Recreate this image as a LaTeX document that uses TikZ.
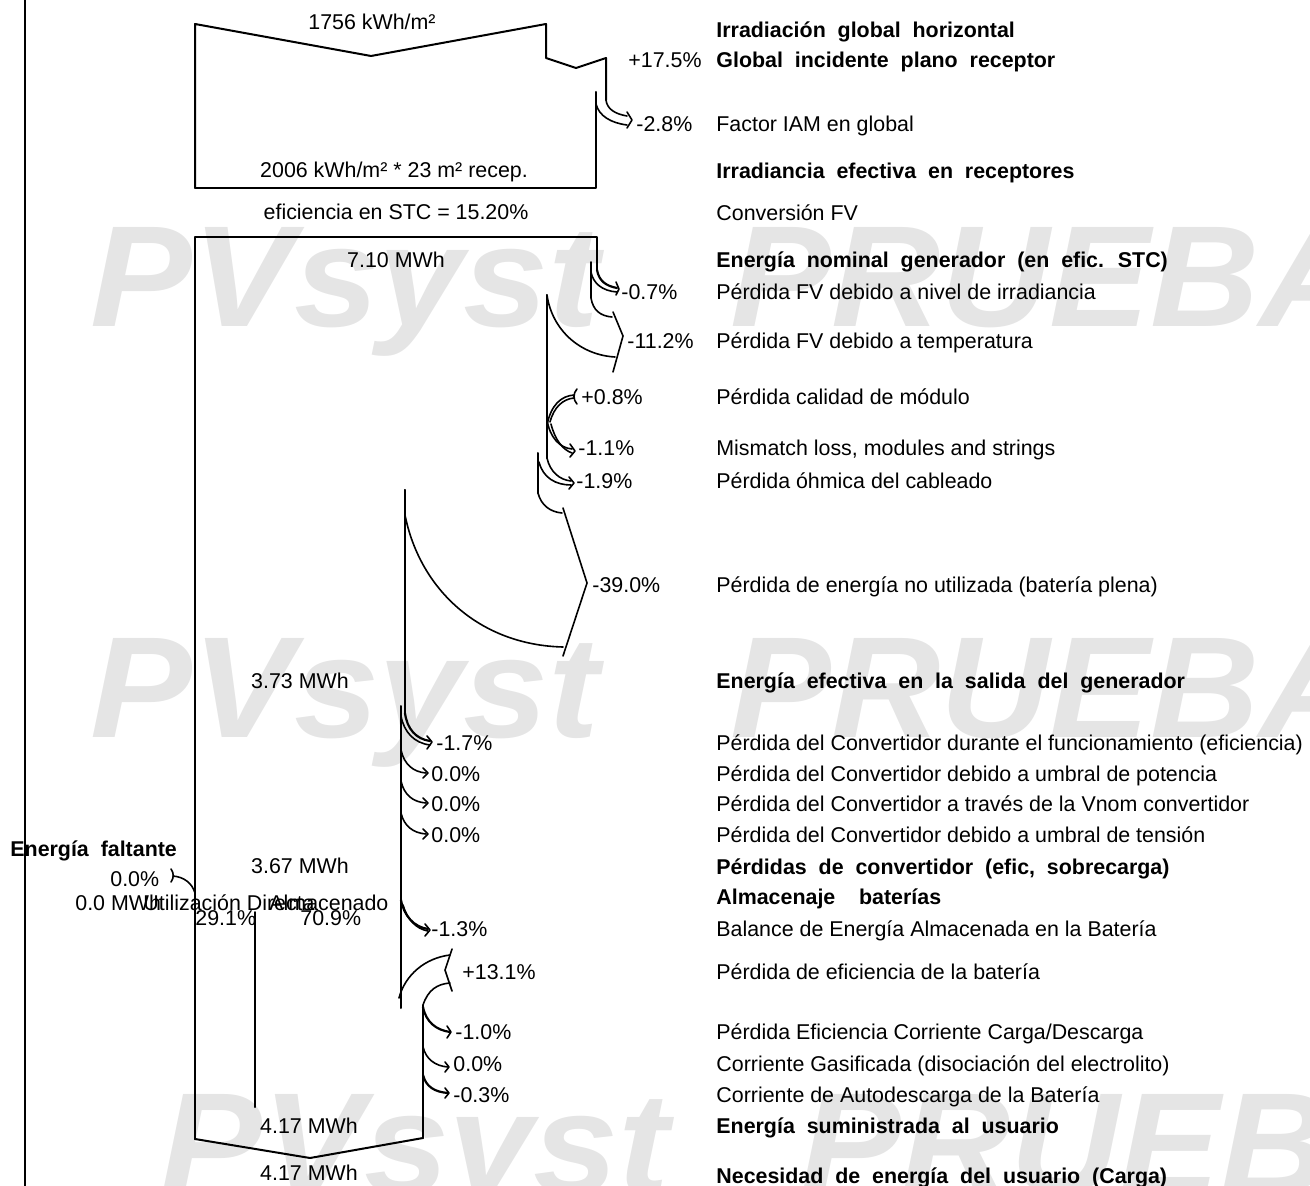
\documentclass[tikz,border=0pt]{standalone}
\usepackage{fontspec}
\usepackage{graphicx}
\setmainfont{Liberation Sans}
\newfontfamily\bfam{Liberation Sans}[WordSpace=2]
\definecolor{wmgray}{RGB}{229,229,229}
\begin{document}
\begin{tikzpicture}[x=0.5pt,y=-0.5pt,line join=round,line cap=round]
\tikzset{
  ln/.style={line width=1pt},
  ar/.style={line width=0.8pt},
  arb/.style={line width=1.1pt},
  lbl/.style={anchor=base west,inner sep=0pt,font=\fontsize{10.7}{12}\selectfont},
  blbl/.style={anchor=base west,inner sep=0pt,font=\fontsize{10.7}{12}\selectfont\bfam\bfseries},
  clbl/.style={anchor=base,inner sep=0pt,font=\fontsize{10.7}{12}\selectfont},
  wm/.style={anchor=base west,inner sep=0pt,text=wmgray,font=\fontsize{72}{72}\selectfont\bfseries\itshape}
}
\useasboundingbox (0,0) rectangle (1310,1186);
\begin{scope}
\clip (0,0) rectangle (1310,1186);
\node[wm] (w1a) at (90,327) {\scalebox{1.06}[1]{PVsyst}};
\node[wm] (w1b) at (730,327) {\scalebox{1.05}[1]{PRUEBA}};
\node[wm] (w2a) at (90,737) {\scalebox{1.06}[1]{PVsyst}};
\node[wm] (w2b) at (730,737) {\scalebox{1.05}[1]{PRUEBA}};
\node[wm] (w3a) at (160,1193) {\scalebox{1.06}[1]{PVsyst}};
\node[wm] (w3b) at (800,1193) {\scalebox{1.05}[1]{PRUEBA}};
\end{scope}

% left border line
\draw[ln] (25,0) -- (25,1186);

% irradiation box
\draw[ln] (195,188) -- (195,24) -- (371,56) -- (546,24) -- (546,58) -- (576,68) -- (606,58) -- (606,100);
\draw[ln] (195,188) -- (596,188) -- (596,92);
% IAM loss
\draw[ar] (606,100) .. controls (607,109) and (615,114) .. (627,116);
\draw[ar] (596,104) .. controls (599,116) and (611,123) .. (627,125);
\draw[ar] (627,112) -- (632,120) -- (627,128);

% PV array box
\draw[ln] (195,1139) -- (195,237) -- (597,237) -- (597,270);
% -0.7%
\draw[arb] (597,270) .. controls (599,281) and (606,286) .. (617,288);
\draw[ar] (591,262) -- (591,272) .. controls (593,283) and (602,291) .. (617,292);
\draw[ar] (616,282) -- (619,289) -- (616,295);
% -11.2%
\draw[ar] (591,272) -- (591,298) .. controls (593,310) and (600,316) .. (612,317);
\draw[ar] (547,295) .. controls (552,330) and (580,355) .. (615,357);
\draw[ar] (613,312) -- (623,336) -- (613,372);
\draw[ln] (547,295) -- (547,458);
% +0.8%
\draw[ar] (547,425) .. controls (551,405) and (561,396) .. (574,395);
\draw[ar] (550,422) .. controls (554,407) and (563,399) .. (574,398);
\draw[ar] (577,389) .. controls (573,393) and (573,400) .. (577,404);
% -1.1%
\draw[ar] (547,420) .. controls (550,438) and (560,448) .. (572,449);
\draw[ar] (551,424) .. controls (555,440) and (563,450) .. (572,453);
\draw[ar] (570,444) -- (575,451) -- (570,457);
% -1.9%
\draw[ar] (547,458) .. controls (550,472) and (560,480) .. (571,481);
\draw[ar] (539,462) .. controls (543,478) and (556,485) .. (571,485);
\draw[ar] (569,477) -- (574,483) -- (569,489);
\draw[ln] (538,453) -- (538,493);
% -39.0%
\draw[ar] (538,493) .. controls (541,505) and (550,512) .. (562,513);
\draw[ar] (563,508) -- (587,583) -- (563,656);
\draw[ar] (405,490) -- (405,515) .. controls (420,590) and (480,645) .. (563,647);
\draw[ln] (405,490) -- (405,713);
\draw[ln] (401,706) -- (401,1008);
% -1.7%
\draw[arb] (405,713) .. controls (407,729) and (416,739) .. (430,741);
\draw[ar] (401,716) .. controls (404,732) and (414,743) .. (430,745);
\draw[ar] (427,736) -- (432,742) -- (427,749);
% 0.0% x3
\draw[ar] (401,750) .. controls (404,764) and (413,772) .. (426,773);
\draw[ar] (423,768) -- (428,773) -- (423,778);
\draw[ar] (401,781) .. controls (404,795) and (413,802) .. (426,803);
\draw[ar] (423,798) -- (428,803) -- (423,808);
\draw[ar] (401,813) .. controls (404,826) and (413,833) .. (426,834);
\draw[ar] (423,829) -- (428,834) -- (423,839);
% -1.3%
\draw[arb] (401,900) .. controls (404,916) and (414,927) .. (428,929);
\draw[ar] (403,905) .. controls (407,919) and (416,929) .. (428,931);
\draw[ar] (425,924) -- (430,930) -- (425,936);
% +13.1%
\draw[ar] (399,998) .. controls (405,975) and (425,958) .. (450,955);
\draw[ar] (423,1005) .. controls (428,990) and (437,984) .. (450,983);
\draw[ar] (452,949) -- (445,970) -- (452,991);
\draw[ln] (423,1005) -- (423,1138);
% -1.0%
\draw[arb] (423,1007) .. controls (426,1022) and (436,1030) .. (450,1032);
\draw[ar] (447,1026) -- (451,1032) -- (447,1038);
% 0.0%
\draw[ar] (423,1047) .. controls (426,1059) and (435,1066) .. (448,1067);
\draw[ar] (445,1062) -- (449,1067) -- (445,1072);
% -0.3%
\draw[arb] (423,1075) .. controls (426,1087) and (435,1092) .. (448,1093);
\draw[ar] (445,1088) -- (449,1093) -- (445,1098);
% bottom
\draw[ln] (195,1139) -- (310,1158) -- (423,1138);
\draw[ln] (255,912) -- (255,1107);
% missing energy
\draw[ar] (171,869) .. controls (174,873) and (174,878) .. (171,882);
\draw[ar] (173,876) .. controls (184,877) and (192,883) .. (195,893);

% left labels
\node[clbl] (l1) at (372,30) {1756 kWh/m²};
\node[clbl] (l2) at (394,178) {2006 kWh/m² * 23 m² recep.};
\node[clbl] (l3) at (396,220) {eficiencia en STC = 15.20\%};
\node[clbl] (l4) at (396,268) {7.10 MWh};
\node[clbl] (l5) at (300,688) {3.73 MWh};
\node[blbl] (l6) at (10,856) {Energía faltante};
\node[clbl] (l7) at (300,873) {3.67 MWh};
\node[lbl] (l8) at (110,886) {0.0\%};
\node[lbl] (l9) at (75,910) {0.0 MWh};
\node[lbl] (l10) at (143,910) {Utilización Directa};
\node[lbl] (l11) at (269,910) {Almacenado};
\node[lbl] (l12) at (195,925) {29.1\%};
\node[lbl] (l13) at (300,925) {70.9\%};
\node[clbl] (l14) at (309,1133) {4.17 MWh};
\node[clbl] (l15) at (309,1180) {4.17 MWh};

% percentages
\node[lbl] (p1) at (628,68) {+17.5\%};
\node[lbl] (p2) at (636,132) {-2.8\%};
\node[lbl] (p3) at (621,300) {-0.7\%};
\node[lbl] (p4) at (627,349) {-11.2\%};
\node[lbl] (p5) at (581,405) {+0.8\%};
\node[lbl] (p6) at (578,456) {-1.1\%};
\node[lbl] (p7) at (576,489) {-1.9\%};
\node[lbl] (p8) at (592,592) {-39.0\%};
\node[lbl] (p9) at (436,750) {-1.7\%};
\node[lbl] (p10) at (431,781) {0.0\%};
\node[lbl] (p11) at (431,811) {0.0\%};
\node[lbl] (p12) at (431,842) {0.0\%};
\node[lbl] (p13) at (431,936) {-1.3\%};
\node[lbl] (p14) at (462,979) {+13.1\%};
\node[lbl] (p15) at (455,1039) {-1.0\%};
\node[lbl] (p16) at (453,1071) {0.0\%};
\node[lbl] (p17) at (453,1102) {-0.3\%};

% right labels
\node[blbl] (r1) at (716,38) {Irradiación global horizontal};
\node[blbl] (r2) at (716,68) {Global incidente plano receptor};
\node[lbl] (r3) at (716,132) {Factor IAM en global};
\node[blbl] (r4) at (716,179) {Irradiancia efectiva en receptores};
\node[lbl] (r5) at (716,221) {Conversión FV};
\node[blbl] (r6) at (716,268) {Energía nominal generador (en efic. STC)};
\node[lbl] (r7) at (716,300) {Pérdida FV debido a nivel de irradiancia};
\node[lbl] (r8) at (716,349) {Pérdida FV debido a temperatura};
\node[lbl] (r9) at (716,405) {Pérdida calidad de módulo};
\node[lbl] (r10) at (716,456) {Mismatch loss, modules and strings};
\node[lbl] (r11) at (716,489) {Pérdida óhmica del cableado};
\node[lbl] (r12) at (716,592) {Pérdida de energía no utilizada (batería plena)};
\node[blbl] (r13) at (716,688) {Energía efectiva en la salida del generador};
\node[lbl] (r14) at (716,750) {Pérdida del Convertidor durante el funcionamiento (eficiencia)};
\node[lbl] (r15) at (716,781) {Pérdida del Convertidor debido a umbral de potencia};
\node[lbl] (r16) at (716,811) {Pérdida del Convertidor a través de la Vnom convertidor};
\node[lbl] (r17) at (716,842) {Pérdida del Convertidor debido a umbral de tensión};
\node[blbl] (r18) at (716,874) {Pérdidas de convertidor (efic, sobrecarga)};
\node[blbl] (r19) at (716,904) {Almacenaje\ \ baterías};
\node[lbl] (r20) at (716,936) {Balance de Energía Almacenada en la Batería};
\node[lbl] (r21) at (716,979) {Pérdida de eficiencia de la batería};
\node[lbl] (r22) at (716,1039) {Pérdida Eficiencia Corriente Carga/Descarga};
\node[lbl] (r23) at (716,1071) {Corriente Gasificada (disociación del electrolito)};
\node[lbl] (r24) at (716,1102) {Corriente de Autodescarga de la Batería};
\node[blbl] (r25) at (716,1133) {Energía suministrada al usuario};
\node[blbl] (r26) at (716,1183) {Necesidad de energía del usuario (Carga)};
\end{tikzpicture}
\end{document}
